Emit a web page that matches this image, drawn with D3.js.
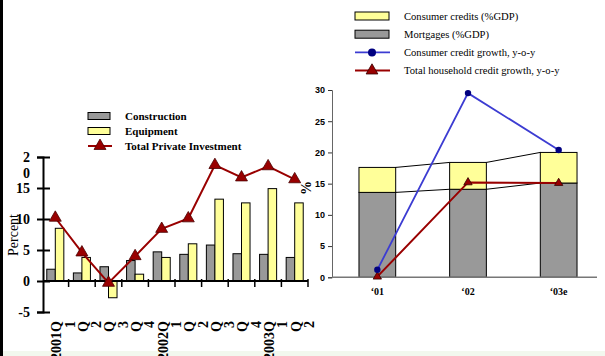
<!DOCTYPE html>
<html lang="en">
<head>
    <meta charset="UTF-8">
    <title>Investment and household credit</title>
    <style>
        body, html { margin: 0; padding: 0; background: #fff; }
        svg { display: block; }
        .serif { font-family: "Liberation Serif", "Times New Roman", serif; }
        .sans { font-family: "Liberation Sans", Arial, sans-serif; }
    </style>
</head>
<body>
    <div id="chart"></div>
    <script src="https://d3js.org/d3.v7.min.js"></script>
    <script>
        // Left chart: quarterly private investment growth
        const quarters = ["2001Q1", "2001Q2", "2001Q3", "2001Q4", "2002Q1", "2002Q2", "2002Q3", "2002Q4", "2003Q1", "2003Q2"];
        const quarterLabels = [["2001Q", "1"], ["Q", "2"], ["Q", "3"], ["Q", "4"], ["2002Q", "1"], ["Q", "2"], ["Q", "3"], ["Q", "4"], ["2003Q", "1"], ["Q", "2"]];
        const construction = [1.9, 1.3, 2.3, 3.3, 4.7, 4.3, 5.8, 4.4, 4.3, 3.8];
        const equipment = [8.5, 3.8, -2.7, 1.1, 3.8, 6.0, 13.2, 12.6, 14.9, 12.6];
        const totalInvestment = [10.2, 4.6, -0.3, 4.0, 8.4, 10.1, 18.7, 16.7, 18.5, 16.4];
        const leftTicks = [-5, 0, 5, 10, 15, 20];

        // Right chart: household credit
        const years = ["\u201801", "\u201802", "\u201803e"];
        const mortgages = [13.6, 14.1, 15.1];
        const consumerCredits = [4.0, 4.3, 4.9];
        const consumerGrowth = [1.2, 29.5, 20.4];
        const householdGrowth = [0.1, 15.2, 15.1];
        const rightTicks = [0, 5, 10, 15, 20, 25, 30];

        const W = 605, H = 356;
        const gray = "#999999", yellow = "#ffff99", red = "#990000", blue = "#3c3cd2", navy = "#000080";

        const svg = d3.select("#chart").append("svg")
            .attr("width", W)
            .attr("height", H);

        // frame bits from the slide
        svg.append("rect").attr("x", 0).attr("y", 0).attr("width", 3).attr("height", H).attr("fill", "#000");
        svg.append("rect").attr("x", 3).attr("y", 351).attr("width", W).attr("height", 5).attr("fill", "#f2f8ee");

        // ---------- left chart ----------
        const xL = d3.scaleBand().domain(quarters).range([42, 308]);
        const xSub = d3.scaleBand().domain(["c", "e"]).range([0, xL.bandwidth()]).paddingOuter(0.56);
        const yL = d3.scaleLinear().domain([-5, 20]).range([312, 157]);
        const left = svg.append("g");

        // bars
        left.selectAll("rect.con")
            .data(construction)
            .join("rect")
            .attr("class", "con")
            .attr("x", (d, i) => xL(quarters[i]) + xSub("c"))
            .attr("y", d => yL(Math.max(0, d)))
            .attr("width", xSub.bandwidth())
            .attr("height", d => Math.abs(yL(d) - yL(0)))
            .attr("fill", gray)
            .attr("stroke", "#000")
            .attr("stroke-width", 1);

        left.selectAll("rect.eq")
            .data(equipment)
            .join("rect")
            .attr("class", "eq")
            .attr("x", (d, i) => xL(quarters[i]) + xSub("e"))
            .attr("y", d => yL(Math.max(0, d)))
            .attr("width", xSub.bandwidth())
            .attr("height", d => Math.abs(yL(d) - yL(0)))
            .attr("fill", yellow)
            .attr("stroke", "#000")
            .attr("stroke-width", 1);

        // x axis line with ticks at band edges
        left.append("line")
            .attr("x1", 43).attr("x2", xL.range()[1])
            .attr("y1", yL(0)).attr("y2", yL(0))
            .attr("stroke", "#000").attr("stroke-width", 2);
        left.selectAll("line.xt")
            .data(quarters)
            .join("line")
            .attr("class", "xt")
            .attr("x1", d => xL(d) + xL.bandwidth())
            .attr("x2", d => xL(d) + xL.bandwidth())
            .attr("y1", yL(0) - 2)
            .attr("y2", yL(0) + 6)
            .attr("stroke", "#000").attr("stroke-width", 1.5);

        // y axis
        const yAxisL = left.append("g")
            .attr("transform", "translate(43,0)")
            .call(d3.axisLeft(yL).tickValues(leftTicks).tickSize(6).tickPadding(7)
                .tickFormat(d => String(d)));
        yAxisL.select(".domain").attr("stroke-width", 2);
        yAxisL.selectAll(".tick line").attr("x2", 7).attr("x1", -6).attr("stroke-width", 2);
        yAxisL.selectAll("text")
            .attr("class", "serif")
            .attr("font-size", 14)
            .attr("font-weight", "bold")
            .attr("fill", "#000");
        // the 20 is broken across two lines in the original
        yAxisL.selectAll(".tick").filter(d => d === 20).select("text")
            .text(null)
            .call(t => {
                t.append("tspan").attr("x", -13).text("2");
                t.append("tspan").attr("x", -13).attr("dy", 16).text("0");
            });

        // rotated quarter labels (two lines each)
        quarterLabels.forEach((lab, i) => {
            const cx = xL(quarters[i]) + xL.bandwidth() / 2;
            lab.forEach((s, j) => {
                left.append("text")
                    .attr("class", "serif")
                    .attr("transform", `translate(${cx + 1 + j * 13.3},321) rotate(-90)`)
                    .attr("text-anchor", "end")
                    .attr("dy", "0.35em")
                    .attr("font-size", 14)
                    .attr("font-weight", "bold")
                    .text(s);
            });
        });

        // total private investment line
        const lineL = d3.line()
            .x((d, i) => xL(quarters[i]) + xL.bandwidth() / 2)
            .y(d => yL(d));
        left.append("path")
            .datum(totalInvestment)
            .attr("d", lineL)
            .attr("fill", "none")
            .attr("stroke", red)
            .attr("stroke-width", 2);
        left.selectAll("path.tri")
            .data(totalInvestment)
            .join("path")
            .attr("class", "tri")
            .attr("transform", (d, i) => `translate(${xL(quarters[i]) + xL.bandwidth() / 2},${yL(d)})`)
            .attr("d", d3.symbol(d3.symbolTriangle, 62))
            .attr("fill", red)
            .attr("stroke", "#4a0000")
            .attr("stroke-width", 0.8);

        left.append("text")
            .attr("class", "serif")
            .attr("transform", "translate(13,235) rotate(-90)")
            .attr("text-anchor", "middle")
            .attr("dy", "0.35em")
            .attr("font-size", 14)
            .text("Percent");

        // left legend
        const legL = left.append("g");
        const legLItems = [
            { label: "Construction", type: "rect", fill: gray },
            { label: "Equipment", type: "rect", fill: yellow },
            { label: "Total Private Investment", type: "line" }
        ];
        legLItems.forEach((it, i) => {
            const y = 116 + i * 15;
            if (it.type === "rect") {
                legL.append("rect").attr("x", 88).attr("y", y - 3.5).attr("width", 22).attr("height", 7)
                    .attr("fill", it.fill).attr("stroke", "#000").attr("stroke-width", 1);
            } else {
                legL.append("line").attr("x1", 88).attr("x2", 112).attr("y1", y).attr("y2", y)
                    .attr("stroke", red).attr("stroke-width", 2);
                legL.append("path").attr("transform", `translate(100,${y})`)
                    .attr("d", d3.symbol(d3.symbolTriangle, 62))
                    .attr("fill", red).attr("stroke", "#4a0000").attr("stroke-width", 0.8);
            }
            legL.append("text").attr("class", "serif")
                .attr("x", 125).attr("y", y).attr("dy", "0.35em")
                .attr("font-size", 11).attr("font-weight", "bold")
                .text(it.label);
        });

        // ---------- right chart ----------
        const xR = d3.scaleBand().domain(years).range([332, 604]);
        const yR = d3.scaleLinear().domain([0, 30]).range([277.3, 90]);
        const right = svg.append("g");
        const barW = xR.bandwidth() * 0.405;
        const bx = i => xR(years[i]) + (xR.bandwidth() - barW) / 2;
        const cxR = i => xR(years[i]) + xR.bandwidth() / 2;
        const totals = mortgages.map((m, i) => m + consumerCredits[i]);

        right.selectAll("rect.mort")
            .data(mortgages)
            .join("rect")
            .attr("class", "mort")
            .attr("x", (d, i) => bx(i))
            .attr("y", d => yR(d))
            .attr("width", barW)
            .attr("height", d => yR(0) - yR(d))
            .attr("fill", gray)
            .attr("stroke", "#000")
            .attr("stroke-width", 1);

        right.selectAll("rect.cons")
            .data(consumerCredits)
            .join("rect")
            .attr("class", "cons")
            .attr("x", (d, i) => bx(i))
            .attr("y", (d, i) => yR(totals[i]))
            .attr("width", barW)
            .attr("height", (d, i) => yR(mortgages[i]) - yR(totals[i]))
            .attr("fill", yellow)
            .attr("stroke", "#000")
            .attr("stroke-width", 1);

        // series lines between stacked bars
        [mortgages, totals].forEach(vals => {
            for (let i = 0; i < vals.length - 1; i++) {
                right.append("line")
                    .attr("x1", bx(i) + barW).attr("y1", yR(vals[i]))
                    .attr("x2", bx(i + 1)).attr("y2", yR(vals[i + 1]))
                    .attr("stroke", "#000").attr("stroke-width", 1);
            }
        });

        // axes
        const yAxisR = right.append("g")
            .attr("transform", "translate(332,0)")
            .call(d3.axisLeft(yR).tickValues(rightTicks).tickSize(4).tickPadding(3));
        yAxisR.select(".domain").attr("stroke", "#666");
        yAxisR.selectAll(".tick line").attr("stroke", "#333");
        yAxisR.selectAll("text")
            .attr("class", "sans")
            .attr("font-size", 9)
            .attr("font-weight", "bold")
            .attr("fill", "#000");

        right.append("line")
            .attr("x1", 332).attr("x2", 597)
            .attr("y1", yR(0)).attr("y2", yR(0))
            .attr("stroke", "#777").attr("stroke-width", 1.5);

        right.selectAll("text.yr")
            .data(years)
            .join("text")
            .attr("class", "serif yr")
            .attr("x", d => xR(d) + xR.bandwidth() / 2)
            .attr("y", 291)
            .attr("dy", "0.35em")
            .attr("text-anchor", "middle")
            .attr("font-size", 10)
            .attr("font-weight", "bold")
            .text(d => d);

        // growth lines
        const lineR = d3.line().x((d, i) => cxR(i)).y(d => yR(d));
        right.append("path")
            .datum(householdGrowth)
            .attr("d", lineR)
            .attr("fill", "none")
            .attr("stroke", red)
            .attr("stroke-width", 2);
        right.append("path")
            .datum(consumerGrowth)
            .attr("d", lineR)
            .attr("fill", "none")
            .attr("stroke", blue)
            .attr("stroke-width", 1.8);
        right.selectAll("path.rtri")
            .data(householdGrowth)
            .join("path")
            .attr("class", "rtri")
            .attr("transform", (d, i) => `translate(${cxR(i)},${yR(d)})`)
            .attr("d", d3.symbol(d3.symbolTriangle, 30))
            .attr("fill", red)
            .attr("stroke", "#330000")
            .attr("stroke-width", 0.8);
        right.selectAll("circle.dot")
            .data(consumerGrowth)
            .join("circle")
            .attr("class", "dot")
            .attr("cx", (d, i) => cxR(i))
            .attr("cy", d => yR(d))
            .attr("r", 3.2)
            .attr("fill", navy);

        right.append("text")
            .attr("class", "serif")
            .attr("transform", "translate(306,188) rotate(-90)")
            .attr("text-anchor", "middle")
            .attr("dy", "0.35em")
            .attr("font-size", 14)
            .attr("font-weight", "bold")
            .text("%");

        // right legend
        const legR = right.append("g");
        const legRItems = [
            { label: "Consumer credits (%GDP)", type: "rect", fill: yellow },
            { label: "Mortgages (%GDP)", type: "rect", fill: gray },
            { label: "Consumer credit growth, y-o-y", type: "dot" },
            { label: "Total household credit growth, y-o-y", type: "tri" }
        ];
        legRItems.forEach((it, i) => {
            const y = 16 + i * 18.2;
            if (it.type === "rect") {
                legR.append("rect").attr("x", 355).attr("y", y - 4).attr("width", 34).attr("height", 8)
                    .attr("fill", it.fill).attr("stroke", "#000").attr("stroke-width", 1);
            } else if (it.type === "dot") {
                legR.append("line").attr("x1", 355).attr("x2", 390).attr("y1", y).attr("y2", y)
                    .attr("stroke", blue).attr("stroke-width", 1.8);
                legR.append("circle").attr("cx", 372).attr("cy", y).attr("r", 4).attr("fill", navy);
            } else {
                legR.append("line").attr("x1", 355).attr("x2", 390).attr("y1", y).attr("y2", y)
                    .attr("stroke", red).attr("stroke-width", 2);
                legR.append("path").attr("transform", `translate(372,${y})`)
                    .attr("d", d3.symbol(d3.symbolTriangle, 60))
                    .attr("fill", red).attr("stroke", "#330000").attr("stroke-width", 0.8);
            }
            legR.append("text").attr("class", "serif")
                .attr("x", 404).attr("y", y).attr("dy", "0.35em")
                .attr("font-size", 10.6)
                .text(it.label);
        });
    </script>
</body>
</html>
